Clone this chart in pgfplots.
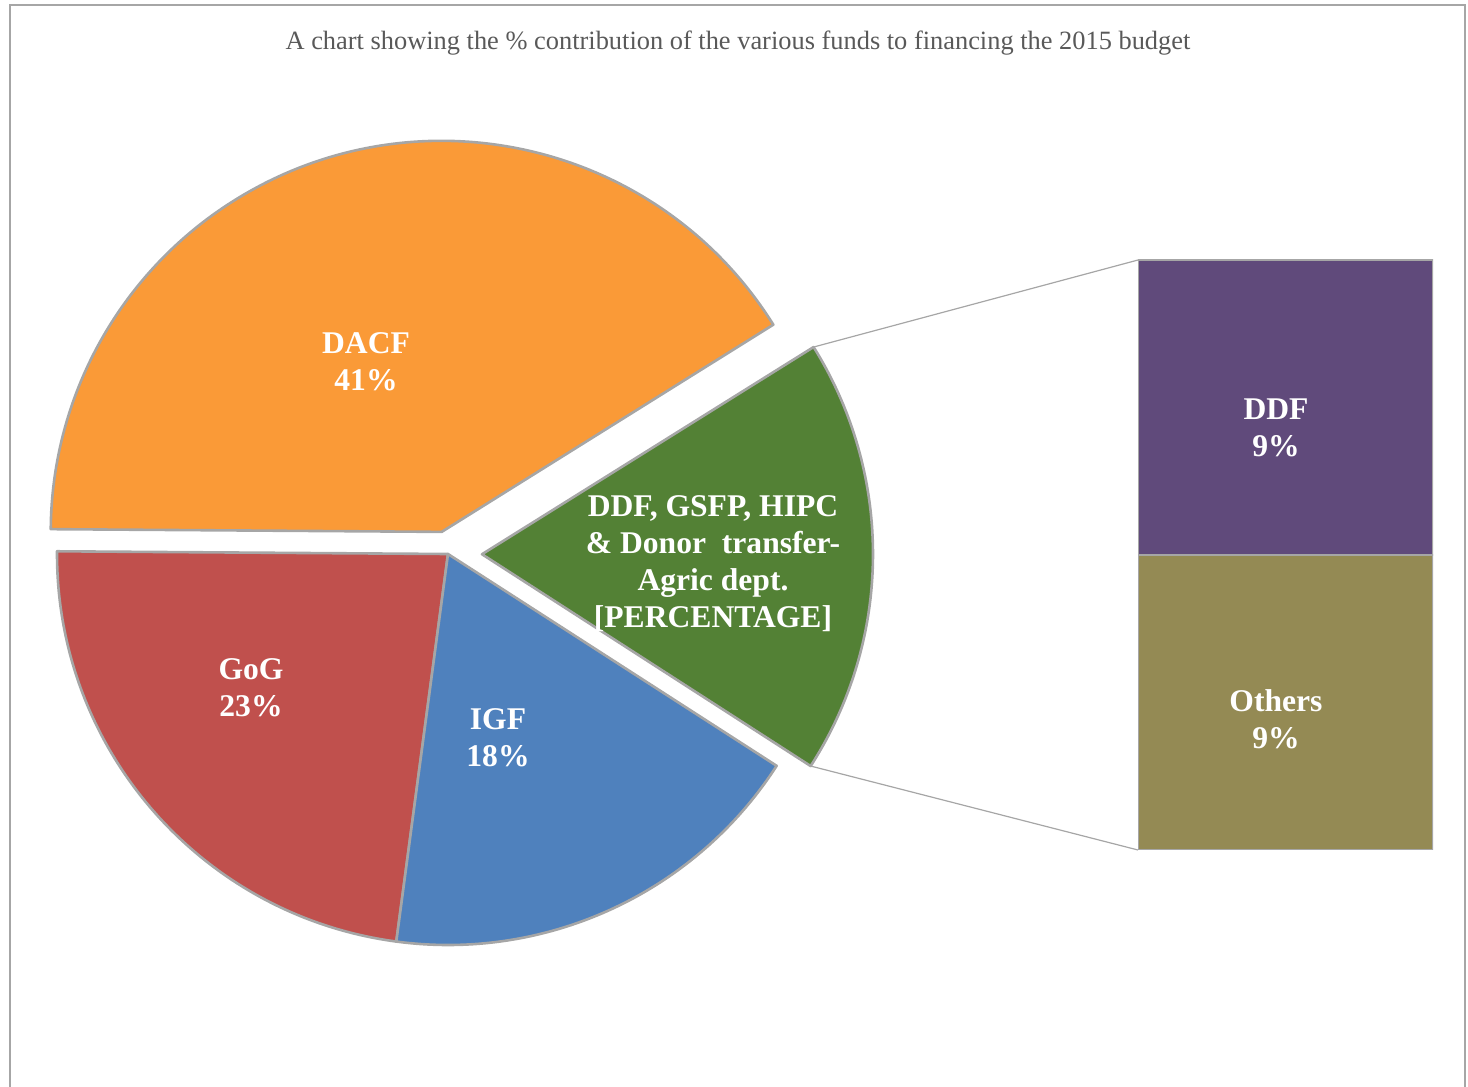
\documentclass[border=0pt]{standalone}
\usepackage{pgfplots}
\pgfplotsset{compat=1.18}
\usetikzlibrary{calc}
\usepackage{fontspec}
\setmainfont{Liberation Serif}
\definecolor{cDACF}{HTML}{FA9A37}
\definecolor{cGoG}{HTML}{C0504D}
\definecolor{cIGF}{HTML}{4F81BD}
\definecolor{cGrp}{HTML}{538135}
\definecolor{cDDF}{HTML}{604A7B}
\definecolor{cOth}{HTML}{948A54}
\definecolor{edgegray}{HTML}{A6A6A6}
\definecolor{ttlgray}{HTML}{595959}
% pie values (%)
\def\pieGoG{23}\def\pieIGF{18}\def\pieGrp{18}\def\pieDACF{41}
\pgfmathsetmacro\pieAngA{179.6}
\pgfmathsetmacro\pieAngB{\pieAngA+3.6*\pieGoG}
\pgfmathsetmacro\pieAngC{\pieAngB+3.6*\pieIGF}
\pgfmathsetmacro\pieAngD{\pieAngC+3.6*\pieGrp}
\pgfmathsetmacro\pieAngE{\pieAngD+3.6*\pieDACF}
\pgfmathsetmacro\pieMidD{(\pieAngC+\pieAngD)/2}
\pgfmathsetmacro\pieMidE{(\pieAngD+\pieAngE)/2}
\newcommand\pieRad{195.5pt}
\tikzset{lbl/.style={text=white,font=\bfseries\fontsize{15.8}{18.5}\selectfont,align=center,inner sep=0pt}}
\begin{document}
\begin{tikzpicture}
\useasboundingbox (0,0) rectangle (734pt,543.5pt);
\begin{axis}[at={(569pt,118.5pt)},anchor=south west,scale only axis,width=147.5pt,height=295pt,
  xmin=0.5,xmax=1.5,ymin=0,ymax=18,hide axis,ybar stacked,bar width=147.5pt]
\addplot[fill=cOth,draw=edgegray,line width=1.1pt] coordinates {(1,9)};
\addplot[fill=cDDF,draw=edgegray,line width=1.1pt] coordinates {(1,9)};
\end{axis}
\begin{axis}[at={(0,0)},anchor=south west,scale only axis,width=734pt,height=543.5pt,
  xmin=0,xmax=1468,ymin=0,ymax=1087,y dir=reverse,hide axis,clip=false]
\draw[edgegray,line width=1pt] (axis cs:10,1087) -- (axis cs:10,5) -- (axis cs:1465,5) -- (axis cs:1465,1087);
\node[text=ttlgray,font=\fontsize{13.2}{15}\selectfont] at (axis cs:738,43) {A chart showing the \% contribution of the various funds to financing the 2015 budget};
\filldraw[fill=cGoG,draw=edgegray,line width=1.3pt,line join=round] (axis cs:448,554) -- ++(\pieAngA:\pieRad) arc[start angle=\pieAngA,end angle=\pieAngB,radius=\pieRad] -- cycle;
\filldraw[fill=cIGF,draw=edgegray,line width=1.3pt,line join=round] (axis cs:448,554) -- ++(\pieAngB:\pieRad) arc[start angle=\pieAngB,end angle=\pieAngC,radius=\pieRad] -- cycle;
\coordinate (g0) at ($(axis cs:448,554)+(\pieMidD:17pt)$);
\filldraw[fill=cGrp,draw=edgegray,line width=1.3pt,line join=round] (g0) -- ++(\pieAngC:\pieRad) arc[start angle=\pieAngC,end angle=\pieAngD,radius=\pieRad] -- cycle;
\coordinate (d0) at ($(axis cs:448,554)+(\pieMidE:11.5pt)$);
\filldraw[fill=cDACF,draw=edgegray,line width=1.3pt,line join=round] (d0) -- ++(\pieAngD:\pieRad) arc[start angle=\pieAngD,end angle=\pieAngE,radius=\pieRad] -- cycle;
\draw[edgegray,line width=0.6pt] ($(g0)+(\pieAngD:\pieRad)$) -- (axis cs:1138,260);
\draw[edgegray,line width=0.6pt] ($(g0)+(\pieAngC:\pieRad)$) -- (axis cs:1138,850);
\node[lbl] at (axis cs:366,362) {DACF\\41\%};
\node[lbl] at (axis cs:251,688) {GoG\\23\%};
\node[lbl] at (axis cs:498,738) {IGF\\18\%};
\node[lbl] at (axis cs:713,564) {DDF, GSFP, HIPC\\\& Donor\ \ transfer-\\Agric dept.\\{[PERCENTAGE]}};
\node[lbl] at (axis cs:1276,428) {DDF\\9\%};
\node[lbl] at (axis cs:1276,719) {Others\\9\%};
\end{axis}
\end{tikzpicture}
\end{document}
